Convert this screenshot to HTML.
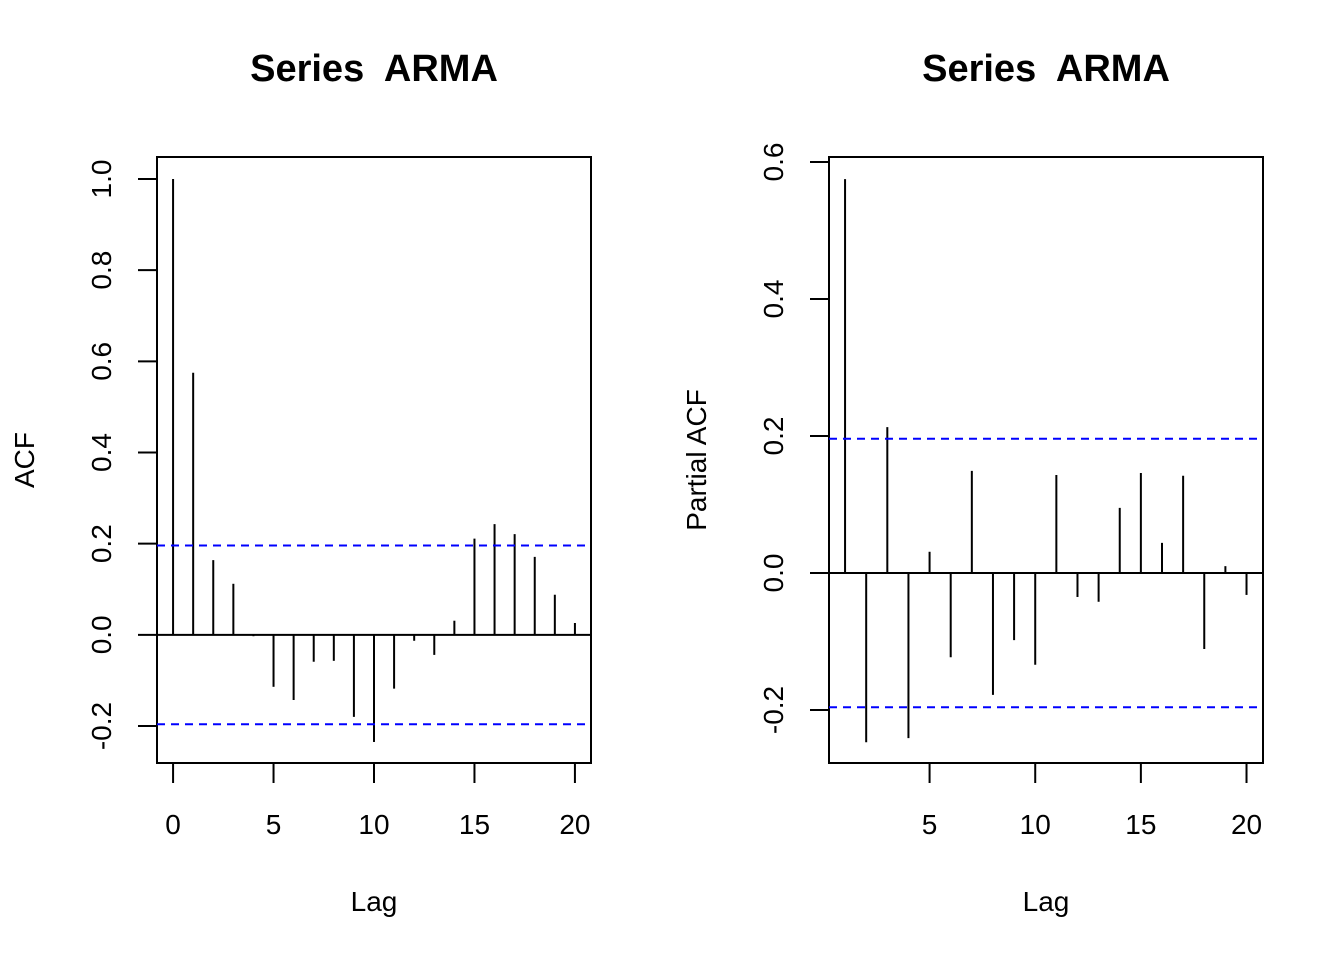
<!DOCTYPE html>
<html><head><meta charset="utf-8"><style>
html,body{margin:0;padding:0;background:#fff;}
svg{display:block;font-family:"Liberation Sans",Arial,sans-serif;}
</style></head><body>
<svg id="c" width="1344" height="960"></svg>
<script>
const acfLags=[0,1,2,3,4,5,6,7,8,9,10,11,12,13,14,15,16,17,18,19,20];
const acfValues=[1.0,0.575,0.164,0.112,-0.003,-0.114,-0.143,-0.059,-0.057,-0.18,-0.235,-0.118,-0.013,-0.044,0.031,0.211,0.243,0.221,0.171,0.088,0.026];
const pacfLags=[1,2,3,4,5,6,7,8,9,10,11,12,13,14,15,16,17,18,19,20];
const pacfValues=[0.575,-0.247,0.213,-0.241,0.031,-0.123,0.149,-0.178,-0.098,-0.134,0.143,-0.035,-0.042,0.095,0.146,0.044,0.142,-0.111,0.010,-0.032];
const ciBound=0.196;
const acfYTicks=[-0.2,0.0,0.2,0.4,0.6,0.8,1.0];
const pacfYTicks=[-0.2,0.0,0.2,0.4,0.6];
const acfXTicks=[0,5,10,15,20];
const pacfXTicks=[5,10,15,20];

const NS="http://www.w3.org/2000/svg";
const svg=document.getElementById('c');
function mk(tag,attrs,parent){const e=document.createElementNS(NS,tag);for(const k in attrs)e.setAttribute(k,attrs[k]);(parent||svg).appendChild(e);return e;}

function panel(o){
  const g=mk('g',{});
  
  
  const X=v=>o.x0+(v-o.xmin)/(o.xmax-o.xmin)*(o.x1-o.x0);
  const Y=v=>o.y1-(v-o.ymin)/(o.ymax-o.ymin)*(o.y1-o.y0);
  const box=mk('rect',{x:o.x0,y:o.y0,width:o.x1-o.x0,height:o.y1-o.y0,fill:'none',stroke:'#000','stroke-width':2},g);
  
  
  const t=mk('text',{x:(o.x0+o.x1)/2,y:81,'text-anchor':'middle','font-size':38,'font-weight':'bold','xml:space':'preserve',style:'white-space:pre'},g);
  t.textContent='Series  ARMA';
  
  
  const ya=mk('g',{},g);
  
  
  o.yt.forEach(v=>{
    mk('line',{x1:o.x0-19,x2:o.x0,y1:Y(v),y2:Y(v),stroke:'#000','stroke-width':2},ya);
    const tx=mk('text',{x:0,y:0,'text-anchor':'middle','font-size':28,transform:`translate(${o.x0-46},${Y(v)}) rotate(-90)`},ya);
    tx.textContent=v.toFixed(1);
    
    
  });
  const xa=mk('g',{},g);
  
  
  o.xt.forEach(v=>{
    mk('line',{x1:X(v),x2:X(v),y1:o.y1,y2:o.y1+20,stroke:'#000','stroke-width':2},xa);
    const tx=mk('text',{x:X(v),y:o.y1+71,'text-anchor':'middle','font-size':28},xa);
    tx.textContent=String(v);
    
    
  });
  const xl=mk('text',{x:(o.x0+o.x1)/2,y:911,'text-anchor':'middle','font-size':28},g);
  xl.textContent='Lag';
  
  
  const yl=mk('text',{x:0,y:0,'text-anchor':'middle','font-size':28,transform:`translate(${o.ylx},${(o.y0+o.y1)/2}) rotate(-90)`},g);
  yl.textContent=o.ylab;
  
  
  const z=mk('line',{x1:o.x0,x2:o.x1,y1:Y(0),y2:Y(0),stroke:'#000','stroke-width':2},g);
  
  
  o.lags.forEach((l,i)=>{
    const b=mk('line',{x1:X(l),x2:X(l),y1:Y(0),y2:Y(o.vals[i]),stroke:'#000','stroke-width':2},g);
    
    
  });
  [ciBound,-ciBound].forEach(v=>{
    const c=mk('line',{x1:o.x0,x2:o.x1,y1:Y(v),y2:Y(v),stroke:'#0000ff','stroke-width':2,'stroke-dasharray':'8,6'},g);
    
    
  });
}
panel({name:'acf-panel',x0:157,x1:591,y0:157,y1:763,xmin:-0.8,xmax:20.8,ymin:-0.2-(763-726)/456,ymax:1.0+(179-157)/456,
  yt:acfYTicks,xt:acfXTicks,lags:acfLags,vals:acfValues,ylab:'ACF',ylx:34});
panel({name:'pacf-panel',x0:829,x1:1263,y0:157,y1:763,xmin:0.24,xmax:20.78,ymin:-(763-573)/685,ymax:(573-157)/685,
  yt:pacfYTicks,xt:pacfXTicks,lags:pacfLags,vals:pacfValues,ylab:'Partial ACF',ylx:706});
</script>
</body></html>
